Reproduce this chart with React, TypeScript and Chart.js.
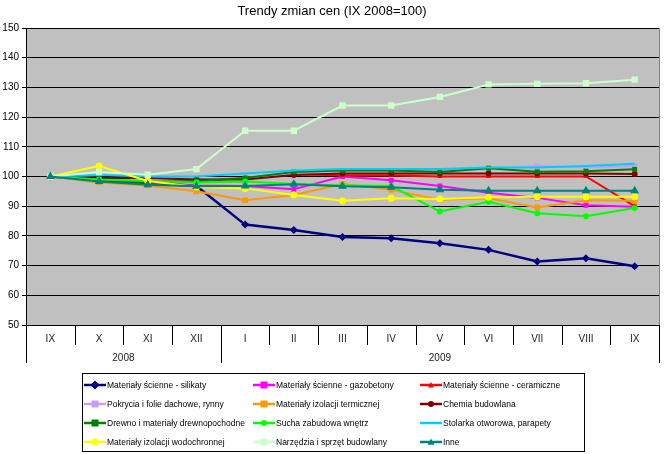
import React, { useEffect, useRef } from "react";
import { Chart, registerables } from "chart.js";

Chart.register(...registerables);

const titleText = "Trendy zmian cen (IX 2008=100)";
const categories = ["IX", "X", "XI", "XII", "I", "II", "III", "IV", "V", "VI", "VII", "VIII", "IX"];
const yearLabels = ["2008", "2009"];
const yearSpans = [4, 9];
const yTicks = [50, 60, 70, 80, 90, 100, 110, 120, 130, 140, 150];

const seriesNames = [
  "Materiały ścienne - silikaty",
  "Materiały ścienne - gazobetony",
  "Materiały ścienne - ceramiczne",
  "Pokrycia i folie dachowe, rynny",
  "Materiały izolacji termicznej",
  "Chemia budowlana",
  "Drewno i materiały drewnopochodne",
  "Sucha zabudowa wnętrz",
  "Stolarka otworowa, parapety",
  "Materiały izolacji wodochronnej",
  "Narzędzia i sprzęt budowlany",
  "Inne",
];

const silikaty = [100, 98.7, 97.8, 96.8, 83.8, 82, 79.6, 79.2, 77.5, 75.3, 71.4, 72.5, 69.8];
const gazobetony = [100, 99, 98, 97, 96.8, 95.7, 100, 98.7, 96.8, 94.5, 92.8, 90.3, 89.8];
const ceramiczne = [100, 99.5, 99, 98.5, 99.5, 100.8, 100.3, 100.3, 100, 100, 100, 100, 90];
const pokrycia = [100, 99.5, 99, 99, 99.5, 101, 102, 102, 102, 102.5, 103.5, 103, 103.5];
const izolTerm = [100, 98, 97, 95, 92, 93.8, 97.5, 95.5, 92.2, 92.7, 89.6, 92, 91.8];
const chemia = [100, 99.5, 99.5, 99, 99, 100.5, 101, 101, 101, 101, 101, 101, 100.8];
const drewno = [100, 99, 98, 98.5, 99.5, 101.5, 102, 102, 101.5, 102.8, 101.6, 101.8, 102.4];
const sucha = [100, 99, 98.5, 98, 98.3, 97.5, 97, 96.8, 88.2, 91.5, 87.6, 86.6, 89.4];
const stolarka = [100, 100.5, 100, 100, 101, 102, 102.5, 102.5, 102.5, 103, 103, 103.5, 104.3];
const wodochron = [100, 103.5, 98.5, 96.5, 96, 93.8, 91.8, 92.7, 92.4, 93, 93.2, 93.2, 93.2];
const narzedzia = [100, 101.5, 100.6, 102.5, 115.4, 115.4, 123.9, 123.9, 126.8, 131, 131.2, 131.4, 132.6];
const inne = [100, 98.3, 97.2, 96.7, 96.8, 97.4, 96.7, 96.4, 95.5, 95.2, 95.2, 95.2, 95.2];

const seriesValues = [silikaty, gazobetony, ceramiczne, pokrycia, izolTerm, chemia, drewno, sucha, stolarka, wodochron, narzedzia, inne];
const seriesColors = ["#000080", "#FF00FF", "#FF0000", "#CC99FF", "#FF9900", "#800000", "#008000", "#00FF00", "#00CCFF", "#FFFF00", "#CCFFCC", "#008080"];
const seriesMarkers = ["rectRot", "rect", "triangle", "rect", "rect", "circle", "rect", "circle", "none", "circle", "rect", "triangle"];
const seriesMarkerSizes = [4, 3.5, 3, 3.5, 4, 3, 3.5, 3, 0, 3.5, 4.5, 5];

const FONT = "Arial, 'Liberation Sans', sans-serif";

function drawMarker(ctx: CanvasRenderingContext2D, style: string, x: number, y: number, r: number, color: string) {
  if (style === "none" || r <= 0) return;
  ctx.save();
  ctx.fillStyle = color;
  ctx.beginPath();
  if (style === "circle") {
    ctx.arc(x, y, r, 0, Math.PI * 2);
  } else if (style === "rect") {
    ctx.rect(x - r, y - r, 2 * r, 2 * r);
  } else if (style === "rectRot") {
    ctx.moveTo(x, y - r * 1.3);
    ctx.lineTo(x + r * 1.3, y);
    ctx.lineTo(x, y + r * 1.3);
    ctx.lineTo(x - r * 1.3, y);
    ctx.closePath();
  } else if (style === "triangle") {
    ctx.moveTo(x, y - r);
    ctx.lineTo(x + r, y + r * 0.8);
    ctx.lineTo(x - r, y + r * 0.8);
    ctx.closePath();
  }
  ctx.fill();
  ctx.restore();
}

const decorPlugin = {
  id: "decor",
  beforeDraw(chart: any) {
    const { ctx, chartArea: a } = chart;
    ctx.save();
    ctx.fillStyle = "#FFFFFF";
    ctx.fillRect(0, 0, chart.width, chart.height);
    ctx.fillStyle = "#C0C0C0";
    ctx.fillRect(a.left, a.top, a.right - a.left, a.bottom - a.top);
    ctx.restore();
  },
  afterDraw(chart: any) {
    const { ctx, chartArea: a } = chart;
    const xs = chart.scales.x;
    ctx.save();
    ctx.strokeStyle = "#808080";
    ctx.lineWidth = 1;
    ctx.beginPath();
    ctx.moveTo(a.right + 0.5, a.top);
    ctx.lineTo(a.right + 0.5, a.bottom);
    ctx.stroke();

    ctx.fillStyle = "#000";
    ctx.font = `13px ${FONT}`;
    ctx.textAlign = "center";
    ctx.textBaseline = "middle";
    ctx.fillText(titleText, 332, 11);

    ctx.strokeStyle = "#000";
    ctx.beginPath();
    ctx.moveTo(a.left, a.bottom + 0.5);
    ctx.lineTo(a.right + 1, a.bottom + 0.5);
    ctx.stroke();

    const n = categories.length;
    const step = (a.right - a.left) / n;
    const boundary = (i: number) => xs.getPixelForValue(i) - step / 2;

    ctx.font = `10px ${FONT}`;
    ctx.fillStyle = "#222";
    for (let i = 0; i < n; i++) {
      ctx.fillText(categories[i], xs.getPixelForValue(i), a.bottom + 14);
    }
    const yearBoundaries = [0];
    let acc = 0;
    yearSpans.forEach((s) => { acc += s; yearBoundaries.push(acc); });
    ctx.beginPath();
    for (let i = 0; i <= n; i++) {
      const x = Math.round(i === n ? boundary(n - 1) + step : boundary(i)) + 0.5;
      const long = yearBoundaries.includes(i);
      ctx.moveTo(x, a.bottom);
      ctx.lineTo(x, a.bottom + (long ? 38 : 20));
    }
    ctx.stroke();
    for (let k = 0; k < yearLabels.length; k++) {
      const x0 = boundary(yearBoundaries[k]);
      const x1 = yearBoundaries[k + 1] === n ? boundary(n - 1) + step : boundary(yearBoundaries[k + 1]);
      ctx.fillText(yearLabels[k], (x0 + x1) / 2, a.bottom + 33);
    }

    const bx = 82.5, by = 373.5, bw = 502, bh = 78;
    ctx.strokeStyle = "#000";
    ctx.strokeRect(bx, by, bw, bh);
    const colX = [84, 253, 420];
    const rowY = [385, 404, 423, 442];
    ctx.font = `8.5px ${FONT}`;
    ctx.textAlign = "left";
    for (let i = 0; i < seriesNames.length; i++) {
      const cx = colX[i % 3];
      const cy = rowY[Math.floor(i / 3)];
      ctx.strokeStyle = seriesColors[i];
      ctx.lineWidth = 2.5;
      ctx.beginPath();
      ctx.moveTo(cx, cy);
      ctx.lineTo(cx + 22, cy);
      ctx.stroke();
      drawMarker(ctx, seriesMarkers[i], cx + 11, cy, Math.min(seriesMarkerSizes[i], 3.5), seriesColors[i]);
      ctx.fillStyle = "#000";
      ctx.fillText(seriesNames[i], cx + 23, cy + 0.5);
    }
    ctx.restore();
  },
};

export default function App() {
  const ref = useRef<HTMLCanvasElement>(null);
  useEffect(() => {
    if (!ref.current) return;
    const datasets = seriesValues.map((vals, i) => ({
      label: seriesNames[i],
      data: vals,
      borderColor: seriesColors[i],
      backgroundColor: seriesColors[i],
      borderWidth: i === 0 ? 2.5 : 2,
      pointStyle: seriesMarkers[i] === "none" ? false : seriesMarkers[i],
      pointRadius: seriesMarkerSizes[i],
      pointBorderWidth: 0,
      pointBackgroundColor: seriesColors[i],
      tension: 0,
      order: seriesValues.length - i,
    }));
    const chart = new Chart(ref.current, {
      type: "line",
      data: { labels: categories, datasets: datasets as any },
      options: {
        responsive: false,
        animation: false,
        layout: { padding: { left: 0, top: 28, right: 3, bottom: 129 } },
        plugins: { legend: { display: false }, title: { display: false }, tooltip: { enabled: false } },
        scales: {
          x: { type: "category", display: false, offset: true },
          y: {
            min: 50,
            max: 150,
            afterFit: (s: any) => { s.width = 26; },
            afterBuildTicks: (s: any) => { s.ticks = yTicks.map((v) => ({ value: v })); },
            ticks: { color: "#000", font: { family: FONT, size: 10 }, padding: 3 },
            grid: { color: "#000", lineWidth: 1, tickLength: 4, drawTicks: true },
            border: { display: true, color: "#000" },
          },
        },
      },
      plugins: [decorPlugin],
    });
    return () => chart.destroy();
  }, []);
  return (
    <div style={{ position: "absolute", left: 0, top: 0, width: 664, height: 454 }}>
      <canvas ref={ref} width={664} height={454} />
    </div>
  );
}
